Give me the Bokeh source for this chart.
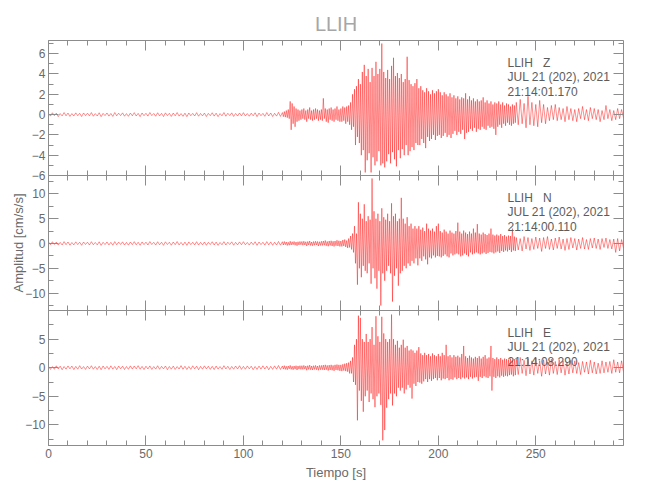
from bokeh.plotting import figure
from bokeh.models import Range1d, LinearAxis, FixedTicker, Label
from bokeh.embed import file_html
from bokeh.resources import INLINE
import numpy as np

# ---------------- data ----------------
station = "LLIH"
components = ["Z", "N", "E"]
date_text = "JUL 21 (202), 2021"
start_times = ["21:14:01.170", "21:14:00.110", "21:14:08.290"]

# sampling of the three segments of each trace: (start s, step s)
seg_starts = [0.0, 120.0, 240.0]
seg_steps = [1.0, 0.5, 1.0]

z_a = [0.12,-0.15,0.18,-0.1,0.14,-0.2,0.1,-0.13,0.2,-0.12,0.15,-0.18,0.1,-0.14,0.17,-0.11,0.13,-0.19,0.16,-0.1,
       0.14,-0.12,0.2,-0.16,0.1,-0.14,0.18,-0.2,0.12,-0.1,0.16,-0.15,0.11,-0.18,0.2,-0.12,0.14,-0.1,0.17,-0.16,
       0.1,-0.17,0.15,-0.12,0.19,-0.14,0.12,-0.2,0.16,-0.11,0.13,-0.15,0.2,-0.1,0.11,-0.16,0.18,-0.13,0.12,-0.19,
       0.17,-0.1,0.13,-0.18,0.15,-0.12,0.2,-0.15,0.1,-0.17,0.14,-0.2,0.16,-0.11,0.12,-0.14,0.19,-0.16,0.11,-0.13,
       0.15,-0.19,0.12,-0.11,0.18,-0.15,0.14,-0.2,0.1,-0.12,0.2,-0.16,0.13,-0.1,0.17,-0.18,0.11,-0.14,0.16,-0.12,
       0.19,-0.13,0.1,-0.16,0.14,-0.12,0.18,-0.2,0.15,-0.11,0.12,-0.17,0.2,-0.14,0.16,-0.19,0.13,-0.15,0.22,-0.18]
z_b = [0.2,-0.2,0.3,-0.25,0.4,-0.3,0.5,-0.4,1.3,-1.5,1.1,-0.9,0.8,-1.2,0.6,-0.7,0.5,-0.6,0.4,-0.5,
       0.5,-0.4,0.6,-0.5,0.4,-0.7,0.5,-0.4,0.7,-0.5,0.4,-0.6,0.5,-0.5,0.6,-0.4,0.5,-0.6,0.4,-0.5,
       0.5,-0.6,1.6,-0.4,0.6,-0.7,0.5,-0.8,0.6,-0.5,0.7,-0.6,0.5,-0.7,0.6,-0.5,0.8,-0.6,0.5,-0.7,
       0.6,-0.7,0.8,-0.6,0.7,-0.9,0.8,-0.7,0.9,-1.0,1.2,-1.5,2.0,-1.2,2.5,-3.0,2.8,-2.2,3.5,-2.8,
       3.0,-4.0,4.2,-3.5,4.9,-5.7,3.8,-4.5,4.5,-3.8,3.2,-5.7,4.6,-4.2,3.8,-5.0,5.2,-4.6,4.0,-3.6,
       4.5,-5.0,7.0,-4.8,4.2,-5.2,3.6,-4.6,4.4,-3.9,3.5,-4.8,4.8,-3.7,5.6,-4.4,3.8,-5.1,4.1,-3.5,
       3.6,-4.3,4.0,-3.4,3.2,-4.0,3.5,-3.0,5.7,-4.0,3.4,-3.6,3.0,-3.2,2.8,-3.5,3.1,-2.8,3.5,-3.0,
       2.6,-3.0,2.8,-2.4,2.4,-2.8,2.2,-3.3,2.6,-2.2,2.3,-2.6,2.0,-2.4,2.4,-2.0,2.1,-2.5,2.3,-2.1,
       2.5,-2.0,2.2,-2.3,1.9,-2.1,2.2,-1.8,2.0,-2.2,1.8,-2.0,2.1,-2.3,1.7,-1.9,1.9,-1.6,1.6,-2.0,
       1.8,-1.7,1.5,-1.9,1.7,-1.5,1.6,-2.4,2.1,-1.8,1.5,-1.7,1.8,-1.4,1.4,-1.6,1.6,-1.3,1.3,-1.7,
       1.5,-1.4,1.3,-1.5,1.4,-1.2,1.7,-1.4,1.2,-1.5,1.4,-1.1,1.1,-1.3,1.3,-1.2,1.0,-1.4,1.2,-2.0,
       1.1,-1.2,1.3,-1.0,1.0,-1.3,1.2,-0.9,0.9,-1.1,1.1,-0.8,1.0,-1.0,0.8,-1.1,1.0,-0.9,0.9,-0.8]
z_c = [1.2,-1.0,1.5,-0.9,1.1,-1.3,1.8,-1.0,1.2,-1.1,
       1.0,-1.2,1.4,-0.8,1.0,-0.9,0.7,-0.6,0.9,-0.5,
       1.0,-0.6,0.7,-0.5,0.6,-0.7,0.8,-0.5,0.6,-0.6,
       0.5,-0.7,0.6,-0.4,0.8,-0.5,0.5,-0.6,0.7,-0.4,
       0.6,-0.5,0.5,-0.7,0.4,-0.5,0.9,-0.4,0.5,-0.6,
       0.4,-0.5,0.6,-0.4,0.5,-0.3]

n_a = [0.3,-0.25,0.35,-0.2,0.28,-0.32,0.22,-0.3,0.38,-0.24,0.3,-0.35,0.2,-0.28,0.33,-0.22,0.26,-0.36,0.3,-0.2,
       0.27,-0.3,0.36,-0.25,0.21,-0.28,0.34,-0.38,0.24,-0.22,0.31,-0.29,0.23,-0.35,0.38,-0.26,0.28,-0.2,0.33,-0.31,
       0.22,-0.33,0.3,-0.24,0.37,-0.27,0.25,-0.36,0.31,-0.23,0.27,-0.3,0.38,-0.21,0.24,-0.32,0.35,-0.26,0.25,-0.37,
       0.34,-0.21,0.26,-0.35,0.3,-0.24,0.39,-0.29,0.22,-0.33,0.28,-0.37,0.32,-0.23,0.25,-0.28,0.36,-0.31,0.23,-0.27,
       0.3,-0.36,0.24,-0.22,0.35,-0.3,0.28,-0.38,0.21,-0.25,0.37,-0.31,0.26,-0.21,0.33,-0.35,0.23,-0.28,0.32,-0.25,
       0.36,-0.26,0.21,-0.32,0.28,-0.24,0.35,-0.37,0.3,-0.23,0.25,-0.33,0.38,-0.28,0.32,-0.36,0.26,-0.3,0.4,-0.34]
n_b = [0.35,-0.3,0.4,-0.25,0.3,-0.4,0.25,-0.35,0.45,-0.3,0.35,-0.25,0.4,-0.35,0.3,-0.45,0.35,-0.3,0.4,-0.25,
       0.4,-0.35,0.45,-0.3,0.35,-0.5,0.4,-0.3,0.5,-0.4,0.3,-0.45,0.4,-0.35,0.45,-0.3,0.4,-0.5,0.35,-0.4,
       0.45,-0.4,0.5,-0.35,0.6,-0.45,0.4,-0.55,0.5,-0.4,0.55,-0.5,0.45,-0.6,0.5,-0.45,0.65,-0.5,0.55,-0.6,
       0.5,-0.6,0.7,-0.5,0.8,-0.7,0.6,-0.9,1.0,-0.8,1.5,-1.2,2.0,-1.8,3.5,-4.0,2.0,-8.3,8.3,-5.0,
       6.0,-6.8,5.0,-4.5,7.9,-5.5,4.5,-6.0,5.5,-4.0,4.8,-8.1,13.1,-5.0,6.5,-7.0,5.0,-9.1,6.0,-5.5,
       4.5,-12.5,7.1,-6.0,5.3,-7.5,4.8,-5.5,6.0,-4.5,4.5,-6.0,8.1,-11.7,5.5,-6.5,6.0,-5.0,4.5,-8.5,
       5.0,-6.0,9.2,-5.5,5.0,-4.5,4.0,-5.0,5.3,-4.0,3.5,-4.5,4.0,-3.5,3.0,-4.0,3.5,-3.0,3.0,-4.4,
       3.5,-3.0,2.8,-3.5,3.2,-2.6,2.5,-3.2,4.0,-4.2,3.0,-2.8,2.6,-3.0,3.0,-2.4,2.4,-2.8,3.5,-2.5,
       4.0,-2.6,2.5,-2.8,2.2,-2.5,2.8,-2.2,2.4,-2.6,2.0,-2.8,2.6,-2.0,2.2,-2.4,2.0,-2.2,2.5,-2.0,
       4.2,-2.2,2.4,-2.6,2.0,-2.4,2.6,-2.0,2.2,-2.3,1.9,-2.6,2.4,-1.8,2.0,-2.2,3.0,-2.0,2.2,-1.8,
       3.9,-2.0,2.0,-2.2,1.8,-2.0,2.2,-1.8,1.9,-2.1,1.7,-1.9,2.0,-1.7,3.0,-1.8,1.8,-2.0,1.6,-1.8,
       1.8,-1.6,1.6,-1.9,1.9,-1.5,1.5,-1.7,1.7,-1.4,1.4,-1.6,1.6,-1.3,1.5,-1.7,3.0,-1.4,1.4,-1.5]
n_c = [1.2,-1.3,1.0,-1.5,1.4,-1.1,1.2,-1.4,1.0,-1.2,
       1.3,-1.0,1.1,-1.6,1.2,-1.0,1.4,-1.2,0.9,-1.3,
       1.1,-1.0,1.3,-1.1,0.9,-1.4,1.0,-1.2,1.2,-0.9,
       1.0,-1.3,0.9,-1.0,1.2,-1.1,0.8,-1.2,1.0,-0.9,
       1.1,-1.0,0.9,-1.2,1.0,-0.8,1.1,-1.0,0.8,-1.1,
       0.9,-1.8,1.0,-1.5,0.8,-0.9]

e_a = [0.25,-0.3,0.2,-0.28,0.33,-0.22,0.27,-0.35,0.21,-0.26,0.31,-0.2,0.29,-0.33,0.23,-0.27,0.35,-0.24,0.2,-0.3,
       0.28,-0.22,0.34,-0.27,0.2,-0.31,0.26,-0.35,0.3,-0.21,0.24,-0.29,0.33,-0.25,0.22,-0.34,0.29,-0.2,0.27,-0.32,
       0.21,-0.28,0.32,-0.24,0.3,-0.2,0.35,-0.27,0.23,-0.33,0.26,-0.22,0.31,-0.3,0.2,-0.25,0.34,-0.28,0.24,-0.21,
       0.3,-0.34,0.22,-0.26,0.28,-0.3,0.2,-0.23,0.36,-0.27,0.25,-0.32,0.21,-0.29,0.33,-0.2,0.27,-0.35,0.23,-0.26,
       0.32,-0.21,0.26,-0.3,0.24,-0.33,0.29,-0.25,0.2,-0.28,0.35,-0.22,0.25,-0.31,0.22,-0.27,0.3,-0.24,0.34,-0.29,
       0.23,-0.27,0.31,-0.2,0.26,-0.34,0.21,-0.3,0.28,-0.25,0.33,-0.23,0.27,-0.36,0.24,-0.29,0.32,-0.26,0.38,-0.31]
e_b = [0.3,-0.25,0.35,-0.3,0.25,-0.35,0.3,-0.2,0.4,-0.3,0.25,-0.35,0.3,-0.25,0.35,-0.4,0.3,-0.25,0.35,-0.3,
       0.35,-0.3,0.4,-0.25,0.3,-0.45,0.35,-0.3,0.45,-0.35,0.3,-0.4,0.35,-0.3,0.4,-0.35,0.3,-0.45,0.4,-0.35,
       0.4,-0.35,0.45,-0.4,0.5,-0.35,0.4,-0.5,0.45,-0.4,0.5,-0.45,0.4,-0.55,0.5,-0.4,0.55,-0.45,0.5,-0.55,
       0.5,-0.6,0.6,-0.5,0.7,-0.6,0.8,-0.7,0.9,-1.0,1.2,-1.0,1.8,-2.5,4.0,-3.0,5.0,-9.2,9.1,-4.0,
       8.7,-5.8,5.0,-7.7,4.5,-5.0,5.9,-4.0,4.5,-6.0,5.0,-4.5,7.1,-5.5,4.0,-6.9,9.0,-5.0,5.5,-4.5,
       4.5,-6.5,8.9,-12.7,6.0,-10.9,5.0,-7.0,4.5,-5.5,5.0,-4.5,9.3,-6.6,5.0,-4.5,4.0,-5.0,4.7,-3.5,
       3.5,-4.0,4.0,-3.5,4.9,-4.5,3.5,-3.8,3.8,-3.0,3.0,-3.5,3.2,-5.4,3.0,-2.8,2.6,-3.2,3.0,-2.5,
       3.6,-2.6,2.5,-2.8,2.2,-2.4,2.6,-2.0,2.2,-2.5,2.4,-2.0,2.0,-2.3,2.5,-2.0,2.2,-1.8,2.0,-2.2,
       2.4,-1.8,2.0,-2.2,2.6,-1.9,2.2,-2.0,4.0,-1.8,2.0,-2.2,2.2,-2.0,1.8,-2.1,2.2,-1.7,1.9,-2.0,
       2.1,-1.8,1.8,-2.0,2.4,-1.7,3.8,-1.9,2.0,-1.7,1.7,-2.0,2.1,-1.6,1.8,-1.9,1.6,-1.7,1.9,-1.6,
       1.7,-2.3,2.0,-1.6,1.6,-1.8,1.9,-1.5,2.2,-1.7,1.6,-1.8,1.8,-1.5,3.8,-4.0,1.7,-1.6,1.5,-1.8,
       1.8,-1.5,1.5,-1.7,1.7,-1.4,1.4,-1.6,1.6,-1.4,1.5,-1.5,1.4,-1.3,1.6,-1.2,1.3,-1.5,1.5,-1.3]
e_c = [1.5,-1.2,1.8,-1.0,1.3,-1.4,1.6,-1.1,1.2,-1.3,
       1.7,-1.0,1.2,-1.5,1.4,-1.1,1.0,-1.3,1.5,-1.0,
       1.1,-1.2,1.4,-0.9,1.2,-1.3,1.0,-1.1,1.3,-0.9,
       1.2,-1.0,0.9,-1.2,1.1,-0.8,1.0,-1.1,1.3,-0.9,
       1.0,-1.1,0.8,-1.0,1.2,-0.9,1.0,-0.8,1.1,-1.0,
       1.4,-0.8,1.0,-0.9,1.2,-0.7]

traces = {"Z": [z_a, z_b, z_c], "N": [n_a, n_b, n_c], "E": [e_a, e_b, e_c]}

# axis limits and ticks
x_lim = (0, 295)
x_major = [0, 50, 100, 150, 200, 250]
x_minor = list(range(0, 300, 10))
y_lims = {"Z": (-6.0, 7.3), "N": (-13.5, 13.7), "E": (-13.6, 10.0)}
y_major = {"Z": [-6, -4, -2, 0, 2, 4, 6], "N": [-10, -5, 0, 5, 10], "E": [-10, -5, 0, 5]}
y_minor = {"Z": list(range(-6, 8)),
           "N": [-12.5, -10, -7.5, -5, -2.5, 0, 2.5, 5, 7.5, 10, 12.5],
           "E": [-12.5, -10, -7.5, -5, -2.5, 0, 2.5, 5, 7.5]}
panel_order = ["E", "N", "Z"]   # bottom to top

# ---------------- style ----------------
FONT = "Liberation Sans"
AX = "#8c8c8c"
LBL = "#6a6a6a"
RED = "#ff0000"
NB = "\u00a0"

p = figure(frame_width=575, frame_height=405,
           min_border_left=48, min_border_right=27, min_border_top=40, min_border_bottom=55,
           x_range=Range1d(*x_lim), y_range=Range1d(0, 3),
           x_axis_type=None, y_axis_type=None,
           output_backend="svg", toolbar_location=None)
p.outline_line_color = AX
p.background_fill_color = "white"
p.border_fill_color = "white"

p.title.text = station
p.title.align = "center"
p.title.text_font = FONT
p.title.text_font_size = "20px"
p.title.text_font_style = "normal"
p.title.text_color = "#a6a6a6"
p.title.standoff = 12

def style(ax, labels=True):
    ax.axis_line_color = AX
    ax.major_tick_line_color = AX
    ax.minor_tick_line_color = AX
    ax.major_tick_in = 10
    ax.major_tick_out = 0
    ax.minor_tick_in = 5
    ax.minor_tick_out = 0
    ax.major_label_text_font = FONT
    ax.major_label_text_font_size = "12px"
    ax.major_label_text_color = LBL if labels else None
    ax.major_label_standoff = 3
    ax.axis_label_text_font = FONT
    ax.axis_label_text_font_size = "13px"
    ax.axis_label_text_font_style = "normal"
    ax.axis_label_text_color = LBL

# bottom x axis with labels
xb = LinearAxis(ticker=FixedTicker(ticks=x_major, minor_ticks=x_minor), axis_label="Tiempo [s]")
style(xb)
xb.axis_label_standoff = 4
p.add_layout(xb, "below")

# x axes at each panel boundary (both directions) and on top
for loc in [1, 2]:
    for side in ["below", "above"]:
        a = LinearAxis(ticker=FixedTicker(ticks=x_major, minor_ticks=x_minor), fixed_location=loc)
        style(a, labels=False)
        p.add_layout(a, side)
xt = LinearAxis(ticker=FixedTicker(ticks=x_major, minor_ticks=x_minor), fixed_location=3)
style(xt, labels=False)
p.add_layout(xt, "above")

# left axis: ticks of the three panels mapped into the shared frame
left_major, left_minor, left_text = [], [], {}
for k, name in enumerate(panel_order):
    lo, hi = y_lims[name]
    span = hi - lo
    p.extra_y_ranges[name] = Range1d(lo - k * span, hi + (2 - k) * span)
    for v in y_major[name]:
        pos = k + (v - lo) / span
        left_major.append(pos)
        left_text[pos] = str(v).replace("-", "\u2212")
    for v in y_minor[name]:
        left_minor.append(k + (v - lo) / span)

yl = LinearAxis(ticker=FixedTicker(ticks=left_major, minor_ticks=left_minor),
                axis_label="Amplitud [cm/s/s]", major_label_overrides=left_text)
style(yl)
yl.axis_label_standoff = -4
p.add_layout(yl, "left")

for k, name in enumerate(panel_order):
    lo, hi = y_lims[name]
    ar = LinearAxis(y_range_name=name, ticker=FixedTicker(ticks=y_major[name], minor_ticks=y_minor[name]),
                    fixed_location=x_lim[1], bounds=(lo, hi))
    style(ar, labels=False)
    p.add_layout(ar, "right")

    segs = traces[name]
    t = np.concatenate([seg_starts[i] + seg_steps[i] * np.arange(len(segs[i])) for i in range(3)])
    v = np.concatenate([np.asarray(s, dtype=float) for s in segs])
    p.line(t, v, y_range_name=name, line_color=RED, line_width=0.45)

    idx = components.index(name)
    lines = [station + NB * 3 + components[idx], date_text, start_times[idx]]
    for j, txt in enumerate(lines):
        p.add_layout(Label(x=235.5, y=hi, y_range_name=name, text=txt,
                           x_offset=0, y_offset=-15 - 14.5 * j,
                           text_baseline="top", text_align="left",
                           text_font=FONT, text_font_size="12px", text_color="#5c5c5c"))

open("out.html", "w").write(file_html(p, INLINE))
